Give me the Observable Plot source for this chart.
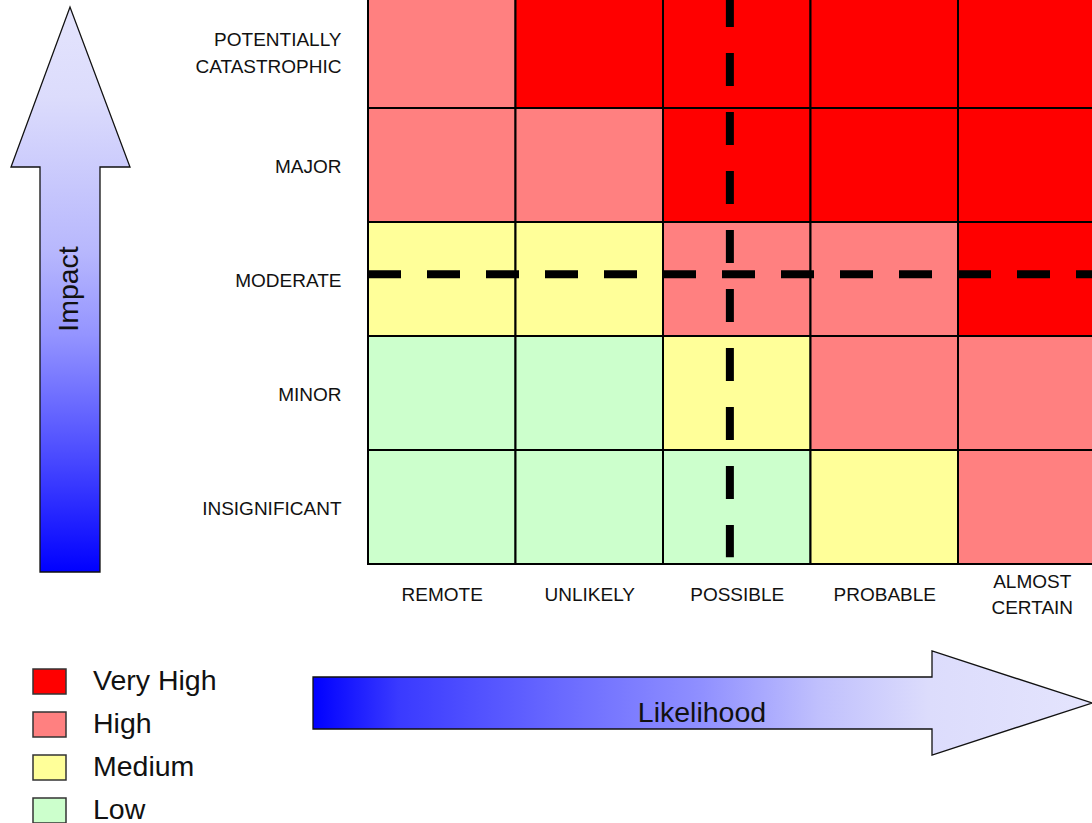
<!DOCTYPE html>
<html>
<head>
<meta charset="utf-8">
<script src="https://cdn.jsdelivr.net/npm/d3@7"></script>
<script src="https://cdn.jsdelivr.net/npm/@observablehq/plot@0.6"></script>
<style>
  html, body { margin: 0; padding: 0; background: #fff; overflow: hidden; }
  #chart svg { display: block; overflow: hidden; }
</style>
</head>
<body>
<div id="chart"></div>
<script>
// ---- data ----
const likelihood = ["REMOTE", "UNLIKELY", "POSSIBLE", "PROBABLE", "ALMOST CERTAIN"];
const impact = ["INSIGNIFICANT", "MINOR", "MODERATE", "MAJOR", "POTENTIALLY CATASTROPHIC"]; // bottom to top
const levels = ["Very High", "High", "Medium", "Low"];
const levelColors = ["#ff0000", "#ff8080", "#ffff99", "#ccffcc"];
// risk level per impact row (bottom to top), per likelihood column
const rowInsignificant = ["Low", "Low", "Low", "Medium", "High"];
const rowMinor = ["Low", "Low", "Medium", "High", "High"];
const rowModerate = ["Medium", "Medium", "High", "High", "Very High"];
const rowMajor = ["High", "High", "Very High", "Very High", "Very High"];
const rowCatastrophic = ["High", "Very High", "Very High", "Very High", "Very High"];
const matrixRows = [rowInsignificant, rowMinor, rowModerate, rowMajor, rowCatastrophic];
// assessed position (in cell units)
const markerLikelihood = 2.45;
const markerImpact = 2.545;
const impactTitle = "Impact";
const likelihoodTitle = "Likelihood";

const cells = [];
matrixRows.forEach((row, r) => row.forEach((lvl, c) => cells.push({c, r, level: lvl})));

const font = "Liberation Sans, Arial, sans-serif";
const W = 1092, H = 823;

const chart = Plot.plot({
  width: W,
  height: H,
  style: {fontFamily: font, background: "white"},
  x: {domain: [0, 5], range: [368, 1105.5], axis: null},
  y: {domain: [0, 5], range: [564, -6], axis: null},
  color: {domain: levels, range: levelColors},
  marks: [
    Plot.rect(cells, {x1: d => d.c, x2: d => d.c + 1, y1: d => d.r, y2: d => d.r + 1,
      fill: "level", stroke: "black", strokeWidth: 2}),
    Plot.ruleY([markerImpact], {y: d => d, x1: 0, x2: 5, stroke: "black", strokeWidth: 8,
      strokeDasharray: "33,26"}),
    Plot.ruleX([markerLikelihood], {x: d => d, y1: 5, y2: 0.06, stroke: "black", strokeWidth: 8,
      strokeDasharray: "33,26"}),
    Plot.text(impact, {x: () => 0, y: (d, i) => i + 0.5, text: d => d.replace(" ", "\n"),
      textAnchor: "end", dx: -27, dy: -1, fontSize: 19, lineHeight: 1.42, fill: "#111", fontFamily: font}),
    Plot.text(likelihood, {x: (d, i) => i + 0.5, y: () => 0, dy: 28, text: d => d.replace(" ", "\n"),
      fontSize: 19, lineHeight: 1.37, fill: "#111", fontFamily: font})
  ]
});
document.getElementById("chart").appendChild(chart);

// ---- decorations: arrows and legend ----
const svg = d3.select(chart);
const defs = svg.append("defs");
const gV = defs.append("linearGradient").attr("id", "gradV").attr("x1", 0).attr("y1", 0).attr("x2", 0).attr("y2", 1);
[[0, "#e4e4fd"], [0.16, "#dcdcfc"], [0.43, "#b8b8fd"], [0.58, "#9494ff"], [0.78, "#5050ff"], [1, "#0000ff"]]
  .forEach(([o, c]) => gV.append("stop").attr("offset", o).attr("stop-color", c));
const gH = defs.append("linearGradient").attr("id", "gradH").attr("x1", 0).attr("y1", 0).attr("x2", 1).attr("y2", 0);
[[0, "#0000ff"], [0.11, "#3a3aff"], [0.32, "#6a6aff"], [0.5, "#9090ff"], [0.65, "#c0c0fd"], [0.79, "#dcdcfc"], [1, "#e4e4fd"]]
  .forEach(([o, c]) => gH.append("stop").attr("offset", o).attr("stop-color", c));

const deco = svg.append("g").attr("text-anchor", "start");
// vertical Impact arrow
deco.append("path")
  .attr("d", "M40,572 L40,167 L11,167 L70,7 L130,167 L100,167 L100,572 Z")
  .attr("fill", "url(#gradV)").attr("stroke", "#111").attr("stroke-width", 1.3);
deco.append("text").text(impactTitle)
  .attr("transform", "translate(68,289) rotate(-90)")
  .attr("text-anchor", "middle").attr("dominant-baseline", "central")
  .attr("font-family", font).attr("font-size", 28.5).attr("fill", "#111");
// horizontal Likelihood arrow
deco.append("path")
  .attr("d", "M313,677 L932,677 L932,651 L1092,703 L932,755 L932,729 L313,729 Z")
  .attr("fill", "url(#gradH)").attr("stroke", "#111").attr("stroke-width", 1.3);
deco.append("text").text(likelihoodTitle)
  .attr("x", 702).attr("y", 712)
  .attr("text-anchor", "middle").attr("dominant-baseline", "central")
  .attr("font-family", font).attr("font-size", 28.5).attr("fill", "#111");

// legend
const leg = deco.append("g");
levels.forEach((lvl, i) => {
  leg.append("rect").attr("x", 33).attr("y", 669 + i * 43).attr("width", 33).attr("height", 25)
    .attr("fill", levelColors[i]).attr("stroke", "#333").attr("stroke-width", 1.5);
  leg.append("text").text(lvl).attr("x", 93).attr("y", 690 + i * 43)
    .attr("text-anchor", "start")
    .attr("font-family", font).attr("font-size", 28.5).attr("fill", "#111");
});
</script>
</body>
</html>
